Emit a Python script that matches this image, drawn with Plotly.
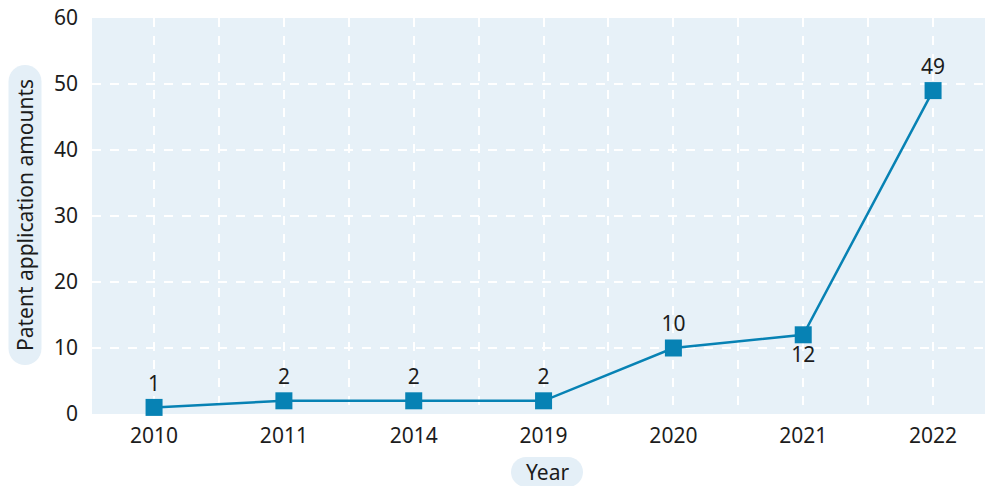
import plotly.graph_objects as go

# Patent applications per year
years = ["2010", "2011", "2014", "2019", "2020", "2021", "2022"]
applications = [1, 2, 2, 2, 10, 12, 49]
label_positions = ["top center", "top center", "top center", "top center",
                   "top center", "bottom center", "top center"]
y_ticks = [0, 10, 20, 30, 40, 50, 60]

x_pos = list(range(len(years)))

LINE_COLOR = "#0782B4"
PLOT_BG = "#E7F1F8"
PILL_BG = "#E4EFF7"
TEXT_COLOR = "#1c1c1c"
FONT = "Noto Sans"
FS = 21

W, H = 985, 486
M_L, M_R, M_T, M_B = 92, 0, 18, 72

fig = go.Figure()
fig.add_trace(go.Scatter(
    x=x_pos,
    y=applications,
    mode="lines+markers+text",
    line=dict(color=LINE_COLOR, width=2.5),
    marker=dict(symbol="square", size=17, color=LINE_COLOR),
    text=[str(v) for v in applications],
    textposition=label_positions,
    textfont=dict(family=FONT, size=FS, color=TEXT_COLOR),
    cliponaxis=False,
    showlegend=False,
    hoverinfo="skip",
))


def pill_path(w, h):
    """Rounded (stadium) rectangle centred on the anchor, in pixels."""
    r = min(w, h) / 2
    k = 0.5523 * r
    x0, x1, y0, y1 = -w / 2, w / 2, -h / 2, h / 2
    return (
        f"M {x0 + r},{y0} L {x1 - r},{y0} "
        f"C {x1 - r + k},{y0} {x1},{y0 + r - k} {x1},{y0 + r} "
        f"L {x1},{y1 - r} "
        f"C {x1},{y1 - r + k} {x1 - r + k},{y1} {x1 - r},{y1} "
        f"L {x0 + r},{y1} "
        f"C {x0 + r - k},{y1} {x0},{y1 - r + k} {x0},{y1 - r} "
        f"L {x0},{y0 + r} "
        f"C {x0},{y0 + r - k} {x0 + r - k},{y0} {x0 + r},{y0} Z"
    )


plot_w = W - M_L - M_R
plot_h = H - M_T - M_B


def paper_x(px):
    return (px - M_L) / plot_w


def paper_y(py):
    return (H - M_B - py) / plot_h


# y-axis title pill
ytitle_x, ytitle_y = paper_x(25), paper_y(215)
# x-axis title pill
xtitle_x, xtitle_y = paper_x(547), paper_y(472)

fig.add_shape(type="path", xref="paper", yref="paper",
              xsizemode="pixel", ysizemode="pixel",
              xanchor=ytitle_x, yanchor=ytitle_y,
              path=pill_path(33, 300), fillcolor=PILL_BG,
              line=dict(width=0), layer="below")
fig.add_shape(type="path", xref="paper", yref="paper",
              xsizemode="pixel", ysizemode="pixel",
              xanchor=xtitle_x, yanchor=xtitle_y,
              path=pill_path(72, 30), fillcolor=PILL_BG,
              line=dict(width=0), layer="below")

fig.add_annotation(x=ytitle_x, y=ytitle_y, xref="paper", yref="paper",
                   text="Patent application amounts", textangle=-90,
                   showarrow=False, xanchor="center", yanchor="middle",
                   font=dict(family=FONT, size=FS, color=TEXT_COLOR))
fig.add_annotation(x=xtitle_x, y=xtitle_y, xref="paper", yref="paper",
                   text="Year", showarrow=False,
                   xanchor="center", yanchor="middle",
                   font=dict(family=FONT, size=FS, color=TEXT_COLOR))

fig.update_layout(
    width=W, height=H,
    margin=dict(l=M_L, r=M_R, t=M_T, b=M_B),
    paper_bgcolor="white",
    plot_bgcolor=PLOT_BG,
    font=dict(family=FONT, size=FS, color=TEXT_COLOR),
    xaxis=dict(
        range=[-0.478, 6.4],
        tickvals=x_pos,
        ticktext=years,
        showgrid=True,
        gridcolor="white",
        griddash="dash",
        gridwidth=1.5,
        minor=dict(tickvals=[i + 0.5 for i in range(-1, len(years))],
                   showgrid=True, gridcolor="white", griddash="dash",
                   gridwidth=1.5),
        zeroline=False,
        showline=False,
        ticklabelstandoff=7,
        tickfont=dict(family=FONT, size=FS, color=TEXT_COLOR),
        fixedrange=True,
    ),
    yaxis=dict(
        range=[0, 60],
        tickvals=y_ticks,
        showgrid=True,
        gridcolor="white",
        griddash="dash",
        gridwidth=1.5,
        zeroline=False,
        showline=False,
        ticklabelstandoff=13,
        tickfont=dict(family=FONT, size=FS, color=TEXT_COLOR),
        fixedrange=True,
    ),
)

fig.write_html("out.html")
